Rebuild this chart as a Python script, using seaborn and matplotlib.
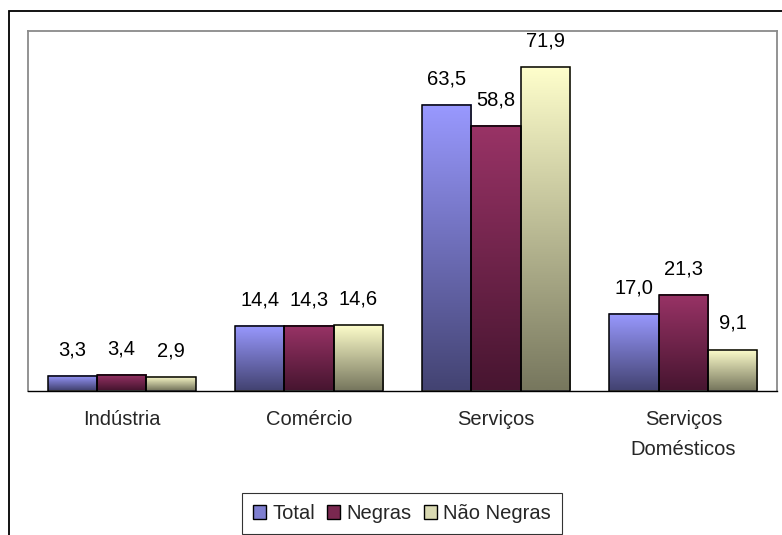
import numpy as np
import pandas as pd
import matplotlib
matplotlib.use("Agg")
import matplotlib.pyplot as plt
import seaborn as sns
from matplotlib.patches import Rectangle, Patch
from matplotlib.colors import to_rgb

categories = ["Indústria", "Comércio", "Serviços", "Serviços\nDomésticos"]
series = ["Total", "Negras", "Não Negras"]
total = [3.3, 14.4, 63.5, 17.0]
negras = [3.4, 14.3, 58.8, 21.3]
nao_negras = [2.9, 14.6, 71.9, 9.1]

top_colors = ["#9999FF", "#993366", "#FFFFCC"]
bottom_colors = ["#434372", "#471530", "#77775E"]
legend_colors = ["#7F7FD0", "#7A2850", "#D9D9B2"]

df = pd.DataFrame({
    "categoria": categories * 3,
    "grupo": [s for s in series for _ in categories],
    "valor": total + negras + nao_negras,
})

sns.set_theme(style="white")
plt.rcParams["font.family"] = ["Liberation Sans", "DejaVu Sans"]

W, H = 782, 535
fig = plt.figure(figsize=(W / 100, H / 100), dpi=100)
ax = fig.add_axes([28 / W, 1 - 390.5 / H, (777 - 28) / W, (390.5 - 31) / H])

sns.barplot(data=df, x="categoria", y="valor", hue="grupo", order=categories,
            hue_order=series, palette=top_colors, width=0.79, gap=0,
            edgecolor="black", linewidth=1.1, saturation=1, ax=ax, zorder=2)

# gradient fills
bars = [p for p in ax.patches if isinstance(p, Rectangle) and p.get_height() > 0]
for p in bars:
    fc = to_rgb(p.get_facecolor())
    idx = int(np.argmin([np.sum((np.array(fc) - np.array(to_rgb(c))) ** 2) for c in top_colors]))
    t = np.linspace(0, 1, 256)[:, None]
    c0 = np.array(to_rgb(top_colors[idx]))
    c1 = np.array(to_rgb(bottom_colors[idx]))
    grad = (c0 * (1 - t) + c1 * t)[:, None, :]
    x0, y0, w, h = p.get_x(), p.get_y(), p.get_width(), p.get_height()
    ax.imshow(grad, extent=[x0, x0 + w, y0, y0 + h], origin="upper",
              aspect="auto", zorder=2, interpolation="bilinear")
    p.set_facecolor("none")
    p.set_zorder(3)
    ax.annotate(f"{h:.1f}".replace(".", ","), (x0 + w / 2, y0 + h),
                xytext=(0, 12), textcoords="offset points", ha="center",
                va="bottom", fontsize=14.5, color="black")

ax.set_xlim(-0.5, 3.5)
ax.set_ylim(0, 80)
ax.set_yticks([])
ax.set_xlabel("")
ax.set_ylabel("")
ax.set_xticks(range(4))
ax.set_xticklabels(categories, fontsize=14.5, linespacing=1.75)
ax.tick_params(axis="x", which="major", length=0, pad=14)
ax.set_xticks([-0.5, 0.5, 1.5, 2.5, 3.5], minor=True)
ax.tick_params(axis="x", which="minor", length=5, width=1, color="black", direction="out")

for s in ["left", "top", "right"]:
    ax.spines[s].set_color("#8A8A8A")
    ax.spines[s].set_linewidth(1.3)
ax.spines["bottom"].set_color("black")
ax.spines["bottom"].set_linewidth(1.0)

# legend
leg0 = ax.get_legend()
if leg0 is not None:
    leg0.remove()
handles = [Patch(facecolor=c, edgecolor="black", linewidth=1.0) for c in legend_colors]
leg = fig.legend(handles, series, loc="center", ncol=3,
                 bbox_to_anchor=(402 / W, 1 - 513.5 / H), fontsize=14.5,
                 frameon=True, fancybox=False, handlelength=0.65, handleheight=0.65,
                 handletextpad=0.3, columnspacing=0.6, borderpad=0.55)
leg.get_frame().set_edgecolor("black")
leg.get_frame().set_linewidth(0.8)

# outer chart frame
fig.patches.append(Rectangle((9 / W, -0.1), 1.0, 1 - 11 / H + 0.1, transform=fig.transFigure,
                             fill=False, edgecolor="black", linewidth=1.3))

fig.savefig("out.png", dpi=100)
